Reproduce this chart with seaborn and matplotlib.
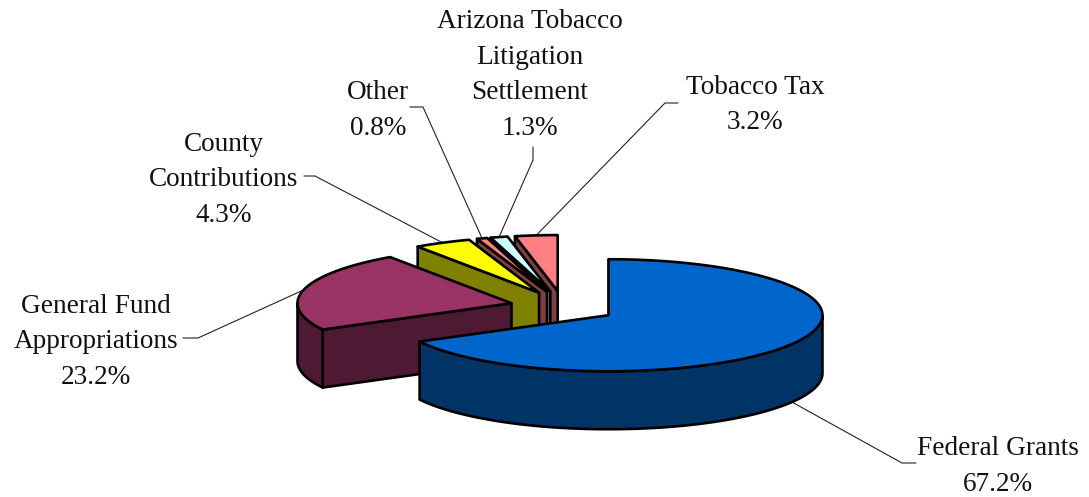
import numpy as np
import matplotlib
matplotlib.use("Agg")
import matplotlib.pyplot as plt
import seaborn as sns

categories = ["Federal Grants", "General Fund\nAppropriations", "County\nContributions",
              "Other", "Arizona Tobacco\nLitigation\nSettlement", "Tobacco Tax"]
shares = [67.2, 23.2, 4.3, 0.8, 1.3, 3.2]
top_colors = ["#0066CC", "#993366", "#FFFF00", "#FF8080", "#CCFFFF", "#FF8080"]
side_colors = ["#003366", "#4D1933", "#808000", "#804040", "#668080", "#804040"]

# layout of labels (pixels in a 1089x497 canvas)
label_xy = [(998, 466.5), (96, 342), (224, 180), (378, 110.5), (530, 75), (755, 105)]
leader_elbow = [[(916, 463), (902, 463)], [(183, 338), (198, 338)], [(304, 176), (315, 176)],
                [(410, 107), (423, 107)], [(533, 147), (533, 160)], [(678, 103), (665, 103)]]

sns.set_theme(style="white")
plt.rcParams["font.family"] = ["Liberation Serif", "DejaVu Serif"]

CX, CY, RX, RY, DEPTH, EX, EY = 563, 307, 214, 56, 58, 53, 16
EDGE = "black"

fig, ax = plt.subplots(figsize=(10.89, 4.97), dpi=100)
ax.set_position([0, 0, 1, 1])
ax.set_xlim(0, 1089)
ax.set_ylim(497, 0)
ax.axis("off")


def rim(cx, cy, t):
    t = np.radians(t)
    return cx + RX * np.sin(t), cy - RY * np.cos(t)


shares_arr = np.array(shares, dtype=float)
ends = np.cumsum(shares_arr) / shares_arr.sum() * 360
starts = ends - shares_arr / shares_arr.sum() * 360
mids = (starts + ends) / 2
centers = [(CX + EX * np.sin(np.radians(m)), CY - EY * np.cos(np.radians(m))) for m in mids]


def poly(xs, ys, color, z):
    ax.fill(xs, ys, facecolor=color, edgecolor=EDGE, linewidth=1.9, joinstyle="round", zorder=z)


# back-to-front drawing: last slice first
for i in range(len(shares) - 1, -1, -1):
    cx, cy = centers[i]
    s, e = starts[i], ends[i]
    z = 10 + (len(shares) - i)
    # radial faces
    for t in ([s] if np.sin(np.radians(s)) < 0 else []) + ([e] if np.sin(np.radians(e)) > 0 else []):
        rx_, ry_ = rim(cx, cy, t)
        poly([cx, rx_, rx_, cx], [cy, ry_, ry_ + DEPTH, cy + DEPTH], side_colors[i], z)
    # outer rim on the viewer's side
    a, b = max(s, 90), min(e, 270)
    if b > a:
        tt = np.linspace(a, b, 120)
        xs, ys = rim(cx, cy, tt)
        poly(np.r_[xs, xs[::-1]], np.r_[ys, ys[::-1] + DEPTH], side_colors[i], z)
    # top face
    tt = np.linspace(s, e, 200)
    xs, ys = rim(cx, cy, tt)
    poly(np.r_[cx, xs], np.r_[cy, ys], top_colors[i], z + 0.5)

# labels and leaders
for i, name in enumerate(categories):
    ax.text(*label_xy[i], f"{name}\n{shares[i]:.1f}%", ha="center", va="center", ma="center",
            fontsize=19.6, color="#111111", linespacing=1.567, zorder=30)
    cx, cy = centers[i]
    ex, ey = rim(cx, cy, mids[i])
    if 90 < mids[i] < 270:
        ey += DEPTH
    pts = leader_elbow[i] + [(ex, ey)]
    ax.plot([p[0] for p in pts], [p[1] for p in pts], color="#222222", lw=0.8, zorder=5,
            solid_joinstyle="miter")

fig.savefig("out.png", dpi=100, facecolor="white")
